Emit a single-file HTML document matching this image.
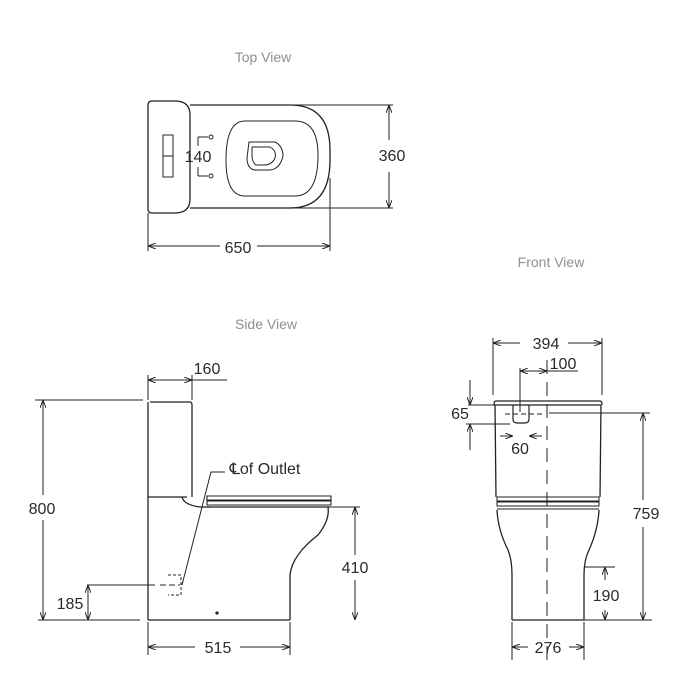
<!DOCTYPE html>
<html><head><style>body{margin:0;background:#fff}svg{display:block}</style></head><body>
<svg width="700" height="700" viewBox="0 0 700 700" xmlns="http://www.w3.org/2000/svg">
<defs><marker id="a" markerWidth="8" markerHeight="6" refX="8" refY="3" orient="auto-start-reverse" markerUnits="userSpaceOnUse"><path d="M0,0 L8,3 L0,6" fill="none" stroke="#222" stroke-width="1"/></marker></defs>
<g font-family="Liberation Sans, sans-serif" fill="#8a8f98" font-size="14" text-anchor="middle">
<text x="263" y="62">Top View</text><text x="266" y="329">Side View</text><text x="551" y="267">Front View</text></g>
<g fill="none" stroke="#222" stroke-width="1.3">
<path d="M152,101 H175 Q190,101 190,115 V199 Q190,213 175,213 H152 Q148,213 148,209 V105 Q148,101 152,101 Z"/>
<path d="M190,105 H290 Q330,105 330,150 V160 Q330,208 290,208 H190"/>
<path d="M245,121 H295 Q318,121 318,155 Q318,196 295,196 H245 Q226,196 226,160 Q226,121 245,121 Z" stroke-width="1"/>
<path d="M249,142 H275 Q283,146 283,156 Q280,169 270,170 H254 Q247,168 247,158 Z" stroke-width="1"/>
<path d="M252,147 H270 Q277,151 275,158 Q272,165 264,165 H256 Q252,162 252,155 Z" stroke-width="1"/>
<rect x="163" y="135" width="10" height="42" stroke-width="1"/><line x1="163" y1="156" x2="173" y2="156" stroke-width="1"/>
<circle cx="211" cy="137" r="2" stroke-width="1"/><circle cx="211" cy="176" r="2" stroke-width="1"/>
<line x1="198" y1="137" x2="208" y2="137" stroke-width="1"/><line x1="198" y1="176" x2="208" y2="176" stroke-width="1"/>
<line x1="198" y1="137" x2="198" y2="146" stroke-width="1"/><line x1="198" y1="167" x2="198" y2="176" stroke-width="1"/>
<g stroke-width="1">
<line x1="292" y1="105" x2="393" y2="105"/><line x1="292" y1="208" x2="393" y2="208"/>
<line x1="389" y1="105" x2="389" y2="140" marker-start="url(#a)"/><line x1="389" y1="172" x2="389" y2="208" marker-end="url(#a)"/>
<line x1="148" y1="213" x2="148" y2="251"/><line x1="330" y1="178" x2="330" y2="251"/>
<line x1="148" y1="246" x2="220" y2="246" marker-start="url(#a)"/><line x1="257" y1="246" x2="330" y2="246" marker-end="url(#a)"/>
</g>
<path d="M150,402 H190 Q192,402 192,405 V497"/>
<line x1="148" y1="402" x2="148" y2="620"/>
<line x1="148" y1="497" x2="187" y2="497"/>
<path d="M182,497 Q184,505 200,507 H210"/>
<path d="M207,496 H331 V500 H207 Z" stroke-width="1.1"/><path d="M207,501 H331 V505 H207 Z" stroke-width="1.1"/><line x1="207" y1="507" x2="330" y2="507"/>
<path d="M328,507 Q330,520 318,535 Q292,555 290,575 V620"/>
<line x1="148" y1="620" x2="290" y2="620"/>
<circle cx="217" cy="613" r="1" fill="#222"/>
<g stroke-width="1">
<line x1="148" y1="375" x2="148" y2="400"/><line x1="192" y1="375" x2="192" y2="400"/>
<line x1="148" y1="380" x2="192" y2="380" marker-start="url(#a)" marker-end="url(#a)"/><line x1="192" y1="380" x2="227" y2="380"/>
<line x1="35" y1="400" x2="143" y2="400"/><line x1="38" y1="620" x2="140" y2="620"/>
<line x1="43" y1="400" x2="43" y2="495" marker-start="url(#a)"/><line x1="43" y1="520" x2="43" y2="620" marker-end="url(#a)"/>
<line x1="87" y1="585" x2="155" y2="585"/><line x1="160" y1="585" x2="180" y2="585" stroke-dasharray="6,3"/>
<line x1="88" y1="585" x2="88" y2="620" marker-start="url(#a)" marker-end="url(#a)"/>
<line x1="310" y1="507" x2="360" y2="507"/>
<line x1="355" y1="507" x2="355" y2="555" marker-start="url(#a)"/><line x1="355" y1="580" x2="355" y2="620" marker-end="url(#a)"/>
<line x1="148" y1="622" x2="148" y2="655"/><line x1="290" y1="622" x2="290" y2="655"/>
<line x1="148" y1="647" x2="195" y2="647" marker-start="url(#a)"/><line x1="240" y1="647" x2="290" y2="647" marker-end="url(#a)"/>
<path d="M168,575 H181 V595 H168" stroke-dasharray="3,2"/>
<path d="M182,585 L211,472 H225"/>
</g>
<path d="M496,401 H600 Q602,401 602,405 M494,405 H601 M494,405 Q494,401 496,401"/>
<line x1="495" y1="405" x2="496" y2="497"/><line x1="601" y1="405" x2="600" y2="497"/>
<rect x="497" y="497" width="102" height="4" stroke-width="1"/><rect x="497" y="502" width="102" height="4" stroke-width="1"/>
<line x1="497" y1="509" x2="599" y2="509" stroke-width="1"/>
<path d="M497,510 Q498,530 508,550 Q512,560 512,575 V620"/>
<path d="M599,510 Q598,530 589,550 Q584,560 584,575 V620"/>
<line x1="512" y1="620" x2="584" y2="620"/>
<path d="M513,405 V419 Q513,423 517,423 H525 Q529,423 529,419 V405" stroke-width="1.2"/>
<g stroke-width="1">
<line x1="547" y1="360" x2="547" y2="662" stroke-dasharray="14,8"/>
<line x1="505" y1="414" x2="545" y2="414" stroke-dasharray="5,3"/>
<line x1="549" y1="413" x2="650" y2="413"/>
<line x1="493" y1="338" x2="493" y2="395"/><line x1="602" y1="338" x2="602" y2="395"/>
<line x1="493" y1="343" x2="520" y2="343" marker-start="url(#a)"/><line x1="568" y1="343" x2="602" y2="343" marker-end="url(#a)"/>
<line x1="520" y1="368" x2="520" y2="412"/>
<line x1="520" y1="371" x2="547" y2="371" marker-start="url(#a)" marker-end="url(#a)"/><line x1="547" y1="371" x2="578" y2="371"/>
<line x1="468" y1="405" x2="500" y2="405"/><line x1="466" y1="424" x2="510" y2="424"/>
<line x1="470" y1="380" x2="470" y2="405" marker-end="url(#a)"/><line x1="470" y1="450" x2="470" y2="424" marker-end="url(#a)"/>
<line x1="500" y1="436" x2="513" y2="436" marker-end="url(#a)"/><line x1="542" y1="436" x2="529" y2="436" marker-end="url(#a)"/>
<line x1="643" y1="413" x2="643" y2="500" marker-start="url(#a)"/><line x1="643" y1="527" x2="643" y2="620" marker-end="url(#a)"/>
<line x1="584" y1="567" x2="615" y2="567"/>
<line x1="605" y1="567" x2="605" y2="580" marker-start="url(#a)"/><line x1="605" y1="610" x2="605" y2="620" marker-end="url(#a)"/>
<line x1="584" y1="620" x2="652" y2="620"/>
<line x1="512" y1="622" x2="512" y2="660"/><line x1="584" y1="622" x2="584" y2="660"/>
<line x1="512" y1="647" x2="528" y2="647" marker-start="url(#a)"/><line x1="569" y1="647" x2="584" y2="647" marker-end="url(#a)"/>
</g>
</g>
<g font-family="Liberation Sans, sans-serif" fill="#2a2a2a" font-size="16" text-anchor="middle">
<text x="238" y="253">650</text><text x="392" y="161">360</text><text x="198" y="162">140</text>
<text x="207" y="374">160</text><text x="42" y="514">800</text><text x="70" y="609">185</text>
<text x="355" y="573">410</text><text x="218" y="653">515</text>
<text x="546" y="349">394</text><text x="563" y="369">100</text><text x="460" y="419">65</text>
<text x="520" y="454">60</text><text x="646" y="519">759</text><text x="606" y="601">190</text><text x="548" y="653">276</text>
<text x="265" y="474" font-size="16">℄of Outlet</text>
</g>
</svg>
</body></html>
